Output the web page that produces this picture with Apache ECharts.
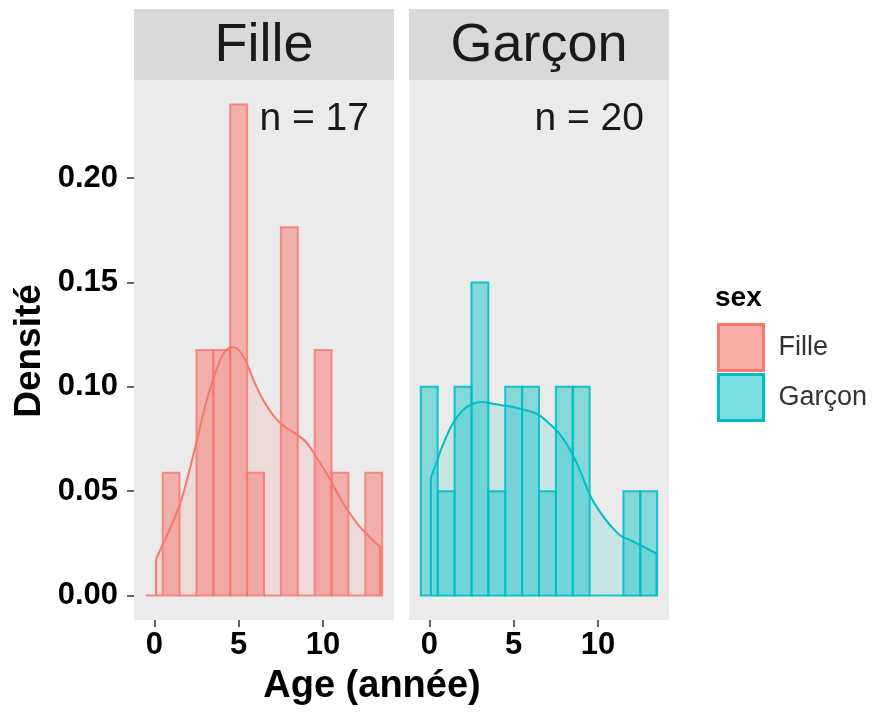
<!DOCTYPE html>
<html><head><meta charset="utf-8">
<script src="https://cdn.jsdelivr.net/npm/echarts@6/dist/echarts.min.js"></script>
<style>html,body{margin:0;padding:0;background:#fff}#c{width:875px;height:713px}</style>
</head><body><div id="c"></div>
<script>
// ---- data ----
const groups = ['Fille', 'Garçon'];
const groupN = [17, 20];
const binWidth = 1;
const binCenters = [0, 1, 2, 3, 4, 5, 6, 7, 8, 9, 10, 11, 12, 13];
const filleHist = [0, 0.0588, 0, 0.1176, 0.1176, 0.2353, 0.0588, 0, 0.1765, 0, 0.1176, 0.0588, 0, 0.0588];
const garconHist = [0.10, 0.05, 0.10, 0.15, 0.05, 0.10, 0.10, 0.05, 0.10, 0.10, 0, 0, 0.05, 0.05];
const filleCurveX = [0.11, 0.6, 1.19, 1.58, 2.17, 2.56, 3.15, 3.74, 4.23, 4.72, 5.30, 5.89, 6.48, 7.07, 7.66, 8.44, 9.03, 9.62, 10.2, 10.8, 11.38, 12.17, 12.95, 13.38];
const filleCurveY = [0.0177, 0.026, 0.037, 0.045, 0.0628, 0.0756, 0.0949, 0.1094, 0.1175, 0.1190, 0.1142, 0.1030, 0.0933, 0.0861, 0.0813, 0.0772, 0.0732, 0.0660, 0.0587, 0.0499, 0.0418, 0.0330, 0.0265, 0.0233];
const garconCurveX = [0.094, 0.39, 0.79, 1.38, 1.98, 2.57, 3.16, 3.76, 4.35, 5.14, 5.94, 6.53, 7.12, 7.72, 8.31, 8.90, 9.50, 10.09, 10.69, 11.28, 11.88, 12.47, 13.06, 13.46];
const garconCurveY = [0.0565, 0.0629, 0.0718, 0.0823, 0.0887, 0.0919, 0.0927, 0.0919, 0.0911, 0.0900, 0.0884, 0.0863, 0.0823, 0.0774, 0.0702, 0.0605, 0.0484, 0.0403, 0.0339, 0.0290, 0.0266, 0.0242, 0.0218, 0.0202];
const xTicks = [0, 5, 10];
const yTicks = [0, 0.05, 0.10, 0.15, 0.20];
const xTitle = 'Age (année)';
const yTitle = 'Densité';
const legendTitle = 'sex';

// ---- styling ----
const FONT = '"Liberation Sans", Arial, Helvetica, sans-serif';
const colors = ['#F8766D', '#00BFC4'];
const rgb = [[248,118,109],[0,191,196]];
const rgba = (i, a) => `rgba(${rgb[i][0]},${rgb[i][1]},${rgb[i][2]},${a})`;
const barAlpha = [0.5, 0.44];
const outlineAlpha = [0.8, 0.9];
const keyAlpha = [0.6, 0.52];
const histData = [filleHist, garconHist];
const curveX = [filleCurveX, garconCurveX];
const curveY = [filleCurveY, garconCurveY];
const gridLeft = [134, 409];
const panelW = 260, panelTop = 80, panelH = 540;

const xMin = -1.2, xMax = 14.2;
const yMin = -0.01176, yMax = 0.24706;

const grids = [], xAxes = [], yAxes = [], series = [], graphics = [];
groups.forEach((g, i) => {
  grids.push({left: gridLeft[i], top: panelTop, width: panelW, height: panelH,
    show: true, backgroundColor: '#EBEBEB', borderWidth: 0, containLabel: false, outerBoundsMode: 'none'});
  xAxes.push({type: 'value', gridIndex: i, min: xMin, max: xMax, position: 'bottom',
    axisLine: {show: false, onZero: false}, splitLine: {show: false},
    axisTick: {show: true, length: 7, customValues: xTicks, lineStyle: {color: '#333', width: 1.5}},
    axisLabel: {customValues: xTicks, fontSize: 31, fontWeight: 'bold', color: '#000', margin: 10, fontFamily: FONT}
  });
  yAxes.push({type: 'value', gridIndex: i, min: yMin, max: yMax, position: 'left',
    axisLine: {show: false, onZero: false}, splitLine: {show: false},
    axisTick: {show: i === 0, length: 7, customValues: yTicks, lineStyle: {color: '#333', width: 1.5}},
    axisLabel: {show: i === 0, customValues: yTicks, formatter: v => v.toFixed(2),
      fontSize: 31, fontWeight: 'bold', color: '#000', margin: 16, fontFamily: FONT}
  });
  // histogram
  series.push({
    type: 'custom', name: g, xAxisIndex: i, yAxisIndex: i, z: 2,
    data: binCenters.map((c, k) => [c, histData[i][k]]),
    renderItem: (params, api) => {
      const x = api.value(0), y = api.value(1);
      const p0 = api.coord([x - binWidth / 2, y]);
      const p1 = api.coord([x + binWidth / 2, 0]);
      if (y === 0) {
        return {type: 'line', shape: {x1: p0[0], y1: p1[1], x2: p1[0], y2: p1[1]},
          style: {stroke: rgba(i, outlineAlpha[i]), lineWidth: 2}};
      }
      return {type: 'rect', shape: {x: p0[0], y: p0[1], width: p1[0] - p0[0], height: p1[1] - p0[1]},
        style: {fill: rgba(i, barAlpha[i]), stroke: rgba(i, outlineAlpha[i]), lineWidth: 2}};
    }
  });
  // density curve
  series.push({
    type: 'line', name: g, xAxisIndex: i, yAxisIndex: i, z: 3,
    data: curveX[i].map((x, k) => [x, curveY[i][k]]),
    smooth: 0.35, showSymbol: false, symbol: 'none',
    lineStyle: {color: colors[i], width: 2},
    itemStyle: {color: colors[i]},
    areaStyle: {color: rgba(i, 0.2), origin: 'auto'}
  });
  // density vertical sides
  const n = curveX[i].length;
  series.push({
    type: 'custom', name: g, xAxisIndex: i, yAxisIndex: i, z: 4,
    data: [[curveX[i][0], curveY[i][0]], [curveX[i][n - 1], curveY[i][n - 1]]],
    renderItem: (params, api) => {
      const a = api.coord([api.value(0), 0]);
      const b = api.coord([api.value(0), api.value(1)]);
      return {type: 'line', shape: {x1: a[0], y1: a[1], x2: b[0], y2: b[1]},
        style: {stroke: colors[i], lineWidth: 2}};
    }
  });
  // strip
  graphics.push({type: 'rect', left: gridLeft[i], top: 9, shape: {width: panelW, height: 71},
    style: {fill: '#D9D9D9'}, silent: true});
  graphics.push({type: 'text', x: gridLeft[i] + panelW / 2, y: 46,
    style: {text: g, fill: '#1A1A1A', font: `54px ${FONT}`, textAlign: 'center', textVerticalAlign: 'middle'}});
  // n = label
  graphics.push({type: 'text', x: gridLeft[i] + 235, y: 119, z: 10,
    style: {text: 'n = ' + groupN[i], fill: '#1A1A1A', font: `39px ${FONT}`, textAlign: 'right', textVerticalAlign: 'middle'}});
});

graphics.push({type: 'text', x: 372, y: 687,
  style: {text: xTitle, fill: '#000', font: `bold 38px ${FONT}`, textAlign: 'center', textVerticalAlign: 'middle'}});
graphics.push({type: 'text', x: 30, y: 351, rotation: Math.PI / 2,
  style: {text: yTitle, fill: '#000', font: `bold 37px ${FONT}`, textAlign: 'center', textVerticalAlign: 'middle'}});
graphics.push({type: 'text', x: 715, y: 298,
  style: {text: legendTitle, fill: '#000', font: `bold 28px ${FONT}`, textAlign: 'left', textVerticalAlign: 'middle'}});

const chart = echarts.init(document.getElementById('c'), null, {renderer: 'canvas'});
chart.setOption({
  animation: false,
  backgroundColor: '#fff',
  grid: grids, xAxis: xAxes, yAxis: yAxes, series: series,
  legend: {
    orient: 'vertical', left: 717, top: 323, padding: 0,
    itemWidth: 45, itemHeight: 46, itemGap: 1, selectedMode: false,
    textStyle: {fontSize: 27, color: '#333', fontFamily: FONT, padding: [0, 0, 0, 10]},
    data: groups.map((g, i) => ({name: g, icon: 'rect',
      itemStyle: {color: rgba(i, keyAlpha[i]), borderColor: colors[i], borderWidth: 3}}))
  },
  graphic: graphics
});
</script>
</body></html>
